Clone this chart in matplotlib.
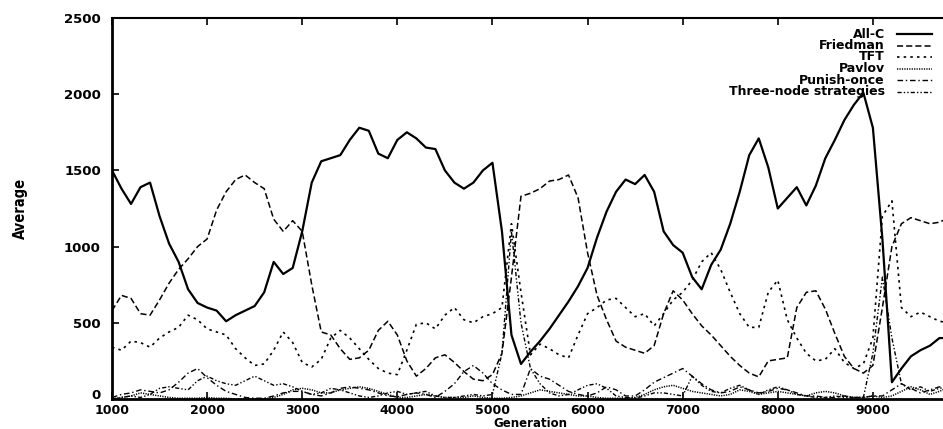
import numpy as np
import matplotlib.pyplot as plt

# generations sampled every 100 steps
gen = np.arange(1000, 9801, 100)

all_c = [1500, 1380, 1280, 1390, 1420, 1200, 1020, 900, 720, 630,
         600, 580, 510, 550, 580, 610, 700, 900, 820, 860,
         1100, 1420, 1560, 1580, 1600, 1700, 1780, 1760, 1610, 1580,
         1700, 1750, 1710, 1650, 1640, 1500, 1420, 1380, 1420, 1500,
         1550, 1100, 420, 230, 310, 380, 460, 550, 640, 740,
         860, 1060, 1230, 1360, 1440, 1410, 1470, 1360, 1100, 1010,
         960, 800, 720, 880, 980, 1150, 1360, 1600, 1710, 1520,
         1250, 1320, 1390, 1270, 1400, 1580, 1700, 1830, 1930, 2010,
         1780, 1050, 110, 200, 280, 320, 350, 400, 400]

friedman = [580, 680, 660, 560, 550, 650, 760, 850, 920, 1000,
            1050, 1240, 1360, 1440, 1470, 1420, 1380, 1180, 1100, 1170,
            1100, 750, 440, 420, 330, 260, 270, 320, 450, 510,
            420, 250, 150, 200, 270, 290, 240, 180, 130, 120,
            160, 300, 800, 1330, 1350, 1380, 1430, 1440, 1470, 1320,
            960, 680, 520, 380, 340, 320, 300, 350, 560, 710,
            650, 560, 480, 420, 350, 280, 220, 170, 145, 250,
            260, 270, 600, 700, 710, 590, 430, 280, 200, 170,
            220, 600, 1000, 1150, 1190, 1170, 1150, 1160, 1190]

tft = [340, 320, 380, 370, 340, 400, 440, 470, 550, 520,
       460, 440, 420, 330, 270, 220, 230, 320, 440, 370,
       240, 210, 260, 400, 450, 400, 330, 260, 200, 170,
       160, 320, 490, 500, 460, 550, 600, 520, 500, 540,
       560, 600, 1150, 700, 290, 360, 330, 290, 270, 420,
       560, 600, 650, 660, 600, 540, 560, 480, 560, 650,
       700, 780, 900, 960, 850, 700, 560, 470, 470, 700,
       780, 520, 400, 300, 250, 260, 330, 240, 200, 230,
       400, 1200, 1300, 600, 540, 570, 540, 510, 500]

pavlov = [0, 10, 20, 40, 30, 20, 10, 5, 5, 5,
          10, 5, 5, 0, 0, 0, 0, 10, 30, 60,
          70, 60, 40, 40, 60, 70, 80, 70, 50, 30,
          10, 10, 20, 30, 20, 10, 10, 10, 20, 10,
          5, 5, 10, 20, 40, 60, 50, 40, 30, 20,
          20, 10, 5, 5, 5, 10, 30, 60, 80, 90,
          70, 50, 40, 30, 20, 30, 60, 50, 30, 40,
          50, 40, 30, 20, 40, 50, 40, 20, 10, 10,
          20, 10, 20, 50, 80, 60, 30, 50, 80]

punish_once = [10, 30, 40, 60, 50, 40, 60, 110, 170, 200,
               140, 90, 50, 30, 10, 5, 5, 20, 40, 50,
               50, 30, 20, 40, 70, 80, 70, 60, 40, 20,
               15, 30, 40, 30, 10, 50, 100, 180, 220, 170,
               100, 60, 30, 30, 200, 150, 130, 90, 50, 30,
               20, 40, 80, 60, 20, 20, 60, 110, 140, 170,
               200, 150, 100, 60, 40, 50, 80, 60, 40, 50,
               70, 60, 40, 20, 20, 10, 10, 20, 10, 10,
               20, 20, 60, 100, 70, 40, 60, 80, 70]

three_node = [0, 10, 20, 10, 30, 70, 80, 70, 60, 120,
              150, 120, 100, 90, 120, 150, 120, 90, 100, 80,
              50, 30, 40, 70, 60, 40, 20, 10, 20, 40,
              50, 30, 40, 50, 20, 10, 10, 20, 30, 20,
              30, 300, 1100, 500, 200, 100, 40, 20, 30, 60,
              90, 100, 70, 20, 10, 5, 20, 40, 40, 30,
              20, 150, 90, 50, 40, 70, 90, 60, 30, 60,
              80, 60, 30, 20, 10, 10, 20, 10, 10, 10,
              300, 800, 400, 100, 60, 80, 50, 70, 80]

labels = ["All-C", "Friedman", "TFT", "Pavlov", "Punish-once",
          "Three-node strategies"]
series = [all_c, friedman, tft, pavlov, punish_once, three_node]
dashes = [None, (4, 2), (1.5, 2.5), (0.8, 0.8), (4, 2, 1, 2),
          (3, 1.5, 1, 1.5, 1, 1.5)]
widths = [1.6, 1.1, 1.2, 1.1, 1.0, 1.0]

plt.rcParams['font.family'] = 'DejaVu Sans'
plt.rcParams['font.weight'] = 'bold'

fig = plt.figure(figsize=(9.43, 4.29), dpi=100)
ax = fig.add_axes([112 / 943, 30 / 429, 856 / 943, 381 / 429])

for vals, d, lw in zip(series, dashes, widths):
    line, = ax.plot(gen, vals, color='black', lw=lw)
    if d is not None:
        line.set_dashes(d)

ax.set_xlim(1000, 10000)
ax.set_ylim(0, 2500)
ax.set_xticks(np.arange(1000, 10000, 1000))
ax.set_yticks(np.arange(0, 2501, 500))

ax.tick_params(direction='in', length=5, width=1.2, top=True, right=False,
               labelsize=9.5)
ax.tick_params(axis='x', pad=3.5, labelsize=9)
ax.tick_params(axis='y', pad=8)
# rest the "0" on the axis line so it clears the first x label
ax.yaxis.get_major_ticks()[0].label1.set_va('baseline')
for side in ['left', 'bottom']:
    ax.spines[side].set_linewidth(2)
ax.spines['top'].set_linewidth(1.5)
ax.spines['right'].set_visible(False)

ax.set_xlabel('Generation', fontsize=8.5, fontweight='bold')
ax.xaxis.set_label_coords((530 - 112) / 856, -0.047)
ax.set_ylabel('Average', fontsize=10.5, fontweight='bold',
              family='DejaVu Sans', fontstretch='condensed')
ax.yaxis.set_label_coords(-0.098, 0.5)

# gnuplot-style key: right-aligned labels followed by line samples
for i, (lab, d, lw) in enumerate(zip(labels, dashes, widths)):
    y = (399 - (34 + 11.5 * i)) / 381
    ax.text(0.903, y, lab, transform=ax.transAxes, ha='right', va='center',
            fontsize=9, fontweight='bold')
    key, = ax.plot([0.917, 0.958], [y, y], transform=ax.transAxes,
                   color='black', lw=lw)
    if d is not None:
        key.set_dashes(d)

fig.savefig('out.png', dpi=100)
